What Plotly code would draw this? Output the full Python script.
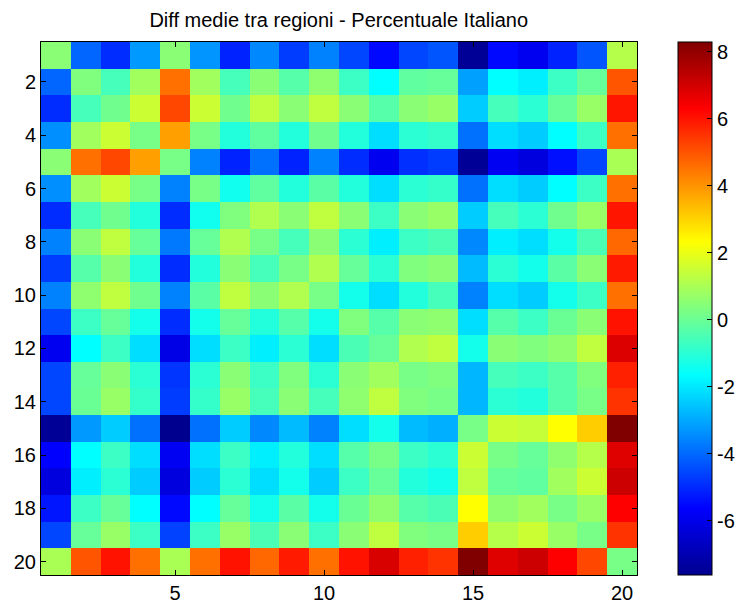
import plotly.graph_objects as go

regions = list(range(1, 21))

row01 = [0.5, -4.04, -4.95, -3.24, 0.5, -3.3, -5.1, -3.5, -4.7, -3.6, -4.55, -5.5, -4.55, -4.3, -7.5, -5.5, -5.9, -5.1, -4.3, 1.17]
row02 = [-4.04, 0.34, -0.58, 0.85, 4.55, 0.85, -0.58, 0.5, -0.32, 0.6, -0.73, -1.65, -0.15, -0.06, -3.13, -1.65, -1.9, -0.73, -0.06, 4.98]
row03 = [-4.95, -0.58, 0.1, 1.53, 5.2, 1.53, 0.1, 1.34, 0.5, 1.34, 0.5, -0.32, 0.5, 0.74, -2.45, -0.58, -0.99, -0.06, 0.74, 5.98]
row04 = [-3.4, 0.85, 1.53, 0.2, 3.8, 0.2, -1.12, -0.17, -1.12, 0.1, -1.12, -2.17, -0.99, -0.85, -3.88, -2.17, -2.45, -1.65, -0.73, 4.55]
row05 = [0.5, 4.55, 5.2, 3.8, 0.2, -3.6, -5.1, -3.88, -5.1, -3.6, -4.95, -5.9, -4.9, -4.7, -7.5, -5.85, -6.2, -5.4, -4.55, 1.0]
row06 = [-3.4, 0.85, 1.53, 0.2, -3.6, 0.2, -1.4, -0.15, -1.12, -0.25, -1.12, -2.17, -0.99, -0.85, -3.88, -2.17, -2.45, -1.65, -0.73, 4.55]
row07 = [-4.95, -0.58, 0.1, -1.12, -4.95, -1.4, 0.34, 1.1, 0.5, 1.34, 0.5, -0.73, 0.5, 0.74, -2.45, -0.58, -0.99, 0.1, 0.74, 5.98]
row08 = [-3.6, 0.5, 1.34, -0.06, -3.75, -0.06, 1.1, 0.2, -0.58, 0.5, -0.99, -1.9, -0.73, -0.5, -3.5, -1.9, -2.17, -1.35, -0.5, 4.7]
row09 = [-4.7, -0.32, 0.5, -1.12, -4.95, -1.12, 0.5, -0.58, 0.2, 1.1, -0.06, -0.99, 0.34, 0.5, -2.72, -0.99, -1.35, -0.25, 0.5, 5.9]
row10 = [-3.6, 0.6, 1.34, 0.1, -3.6, -0.25, 1.34, 0.5, 1.1, 0.2, -1.35, -2.17, -1.12, -0.58, -3.6, -2.17, -2.45, -1.35, -0.73, 4.55]
row11 = [-4.55, -0.73, -0.06, -1.35, -4.95, -1.35, -0.06, -1.12, -0.32, -1.35, 0.34, -0.32, 0.5, 0.6, -2.17, -0.32, -0.73, 0.0, 0.5, 6.0]
row12 = [-5.9, -1.65, -0.73, -2.17, -6.05, -2.17, -0.73, -1.9, -0.99, -2.17, -0.5, -0.06, 1.1, 1.34, -1.35, 0.5, 0.34, 0.6, 1.34, 6.85]
row13 = [-4.55, -0.06, 0.5, -0.99, -4.82, -0.99, 0.5, -0.73, 0.34, -0.99, 0.5, 0.85, 0.2, 0.34, -2.8, -0.58, -0.73, -0.32, 0.34, 5.8]
row14 = [-4.55, 0.0, 0.74, -0.85, -4.7, -0.85, 0.74, -0.58, 0.5, -0.58, 0.6, 1.34, 0.34, 0.2, -2.8, -0.99, -1.12, -0.32, 0.2, 5.5]
row15 = [-7.5, -3.24, -2.45, -3.88, -7.62, -3.88, -2.45, -3.5, -2.72, -3.6, -2.17, -1.35, -2.72, -2.9, 0.2, 1.53, 1.42, 2.32, 3.1, 8.29]
row16 = [-5.63, -1.65, -0.73, -2.17, -5.85, -2.17, -0.73, -1.9, -1.12, -2.17, -0.32, 0.2, -0.73, -0.99, 1.53, 0.2, -0.06, 0.6, 1.17, 6.8]
row17 = [-6.2, -1.9, -0.99, -2.45, -6.2, -2.45, -0.99, -2.17, -1.35, -2.45, -0.73, -0.06, -1.12, -1.35, 1.34, -0.06, -0.15, 0.85, 1.53, 7.1]
row18 = [-5.3, -0.73, -0.06, -1.65, -5.5, -1.65, -0.06, -1.35, -0.25, -1.35, 0.0, 0.6, -0.32, -0.5, 2.32, 0.6, 0.85, 0.2, 0.74, 6.3]
row19 = [-4.55, -0.06, 0.74, -0.73, -4.6, -0.73, 0.74, -0.5, 0.5, -0.73, 0.5, 1.34, 0.34, 0.2, 3.1, 1.17, 1.53, 0.74, 0.2, 5.5]
row20 = [1.0, 4.98, 6.0, 4.55, 1.0, 4.55, 6.0, 4.7, 5.9, 4.55, 6.0, 6.9, 5.8, 5.5, 8.29, 6.8, 7.1, 6.3, 5.2, 0.2]

matrix = [row01, row02, row03, row04, row05, row06, row07, row08, row09, row10,
          row11, row12, row13, row14, row15, row16, row17, row18, row19, row20]

x_ticks = [5, 10, 15, 20]
y_ticks = [2, 4, 6, 8, 10, 12, 14, 16, 18, 20]
cbar_ticks = [-6, -4, -2, 0, 2, 4, 6, 8]
cbar_labels = ["-6", "-4", "-2", "0", "2", "4", "6", "8"]

jet = [
    [0.0, "rgb(0,0,143)"],
    [0.125, "rgb(0,0,255)"],
    [0.375, "rgb(0,255,255)"],
    [0.625, "rgb(255,255,0)"],
    [0.875, "rgb(255,0,0)"],
    [1.0, "rgb(128,0,0)"],
]

font_family = "Liberation Sans, Arial, Helvetica, sans-serif"
fs = 20

fig = go.Figure(
    go.Heatmap(
        z=matrix,
        x=regions,
        y=regions,
        colorscale=jet,
        colorbar=dict(
            x=1.068,
            xanchor="left",
            y=0.5,
            yanchor="middle",
            len=1.0,
            lenmode="fraction",
            thickness=34,
            outlinecolor="black",
            outlinewidth=1,
            tickvals=cbar_ticks,
            ticktext=cbar_labels,
            ticks="inside",
            ticklen=5,
            tickcolor="black",
            tickfont=dict(size=fs, color="black", family=font_family),
            xpad=0,
            ypad=0,
        ),
        hovertemplate="x=%{x}<br>y=%{y}<br>%{z}<extra></extra>",
    )
)

fig.update_layout(
    width=743,
    height=604,
    margin=dict(l=41, r=106, t=42, b=29, autoexpand=False),
    paper_bgcolor="white",
    plot_bgcolor="white",
    font=dict(family=font_family, size=fs, color="black"),
    title=dict(
        text="Diff medie tra regioni - Percentuale Italiano",
        x=(41 + 636.5) / 2 / 743,
        xanchor="center",
        y=1 - 20 / 604,
        yanchor="middle",
        font=dict(size=fs, color="black", family=font_family),
    ),
)

fig.update_xaxes(
    range=[0.5, 20.5],
    tickvals=x_ticks,
    ticks="inside",
    ticklen=5,
    tickcolor="black",
    showline=True,
    linecolor="black",
    linewidth=1,
    mirror="ticks",
    showgrid=False,
    zeroline=False,
    automargin=False,
    tickfont=dict(size=fs),
)
fig.update_yaxes(
    range=[20.5, 0.5],
    tickvals=y_ticks,
    ticks="inside",
    ticklen=5,
    tickcolor="black",
    showline=True,
    linecolor="black",
    linewidth=1,
    mirror="ticks",
    showgrid=False,
    zeroline=False,
    automargin=False,
    tickfont=dict(size=fs),
)

fig.write_html("out.html")
